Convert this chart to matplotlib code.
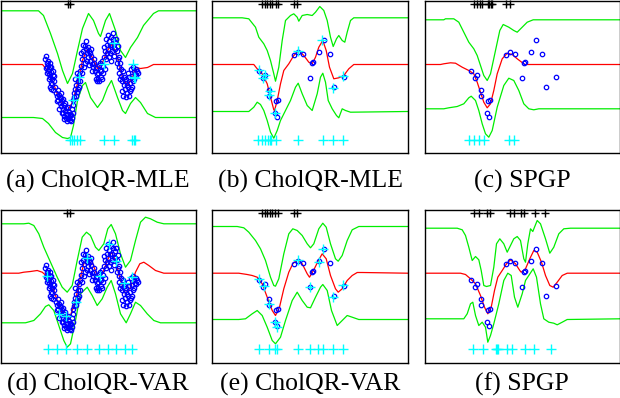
import matplotlib
matplotlib.use("Agg")
import matplotlib.pyplot as plt

# ---------------- data (panel-local coordinates) ----------------
# dense training data used in panels (a) and (d)
data1_x = [45,46,46,47,47,48,48,49,49,50,51,52,51,53,50,54,55,56,57,57,58,59,60,60,61,62,62,63,63,64,65,65,66,67,68,68,69,70,71,72,72,73,74,75,76,77,78,79,78,80,81,81,82,83,84,84,85,86,87,88,89,90,91,92,93,94,95,96,97,98,99,100,101,102,103,104,105,106,107,108,109,110,111,112,113,114,116,117,118,119,118,120,121,122,123,124,125,126,127,128,129,130,131,132,133,134,128,135,
           44,45,46,47,48,49,50,52,53,50,49,52,
           56,58,59,61,63,64,66,67,69,70,71,72,60,62,
           74,75,76,77,79,73,
           80,82,83,85,86,87,88,89,90,91,93,95,96,
           97,98,99,100,101,102,104,
           103,105,106,107,108,109,110,111,112,113,114,115,
           116,117,118,119,120,121,122,123,124,125,126,127,129,130,131,132,133,135,136,137]
data1_y = [55,62,66,64,70,68,73,66,76,71,78,74,83,80,88,86,92,95,89,99,94,102,97,105,100,108,112,104,115,110,107,117,113,118,111,116,119,114,108,104,99,96,88,84,91,80,74,70,86,65,58,72,50,54,45,62,48,52,56,50,60,55,63,66,58,70,67,73,78,64,69,76,60,65,56,50,58,44,48,40,52,36,44,38,47,41,50,58,66,62,72,75,80,70,84,88,78,92,86,95,82,88,75,80,70,73,76,68,
           58,67,72,60,78,62,66,70,75,82,86,89,
           100,108,96,112,118,102,120,106,113,120,117,112,92,98,
           78,95,72,88,80,92,
           52,44,66,40,60,46,64,52,48,70,62,78,80,
           72,80,62,70,78,72,68,
           46,38,52,34,56,44,60,50,32,55,48,38,
           62,45,56,78,68,90,95,76,80,96,84,72,90,68,86,66,78,74,70,72]

# sparse training data used in panels (b), (c), (e), (f)
data2_x = [46,50,52.7,56.7,56,63.3,65.3,62,64,81.7,85.3,90,100.3,99.3,97.7,106.7,111,117,131,121]
data2_y = [70,77.7,74,89.3,95,100,99,112.7,116.7,54.3,51,53.3,61.7,62.7,77.3,51.7,39.3,53.3,76,86.7]

# ---- panel (a) CholQR-MLE ----
a_up_x = [0,38,43,50,57,62,67,72,77,82,88,93,98,100,105,109,115,120,125,130,137,143,153,158,195]
a_up_y = [10.3,10.3,15,33,53,70,83,73,50,28,13,20,33,36,20,13,30,50,57,47,37,25,13,10.3,10.3]
a_mu_x = [0,42,47,52,58,65,67,72,77,82,86,92,97,102,107,112,117,122,127,132,135,140,147,153,195]
a_mu_y = [64,64,70,80,97,110,110,102,83,60,50,57,68,62,50,43,57,77,85,77,67,68,67,64,64]
a_lo_x = [0,33,42,48,55,62,67,70,73,77,82,85,90,97,102,107,111,117,122,125,130,135,140,147,155,195]
a_lo_y = [117,117,118,123,132,137,138,137,125,100,85,82,97,107,100,87,80,97,110,113,103,97,102,113,117,117]
a_sel_x = [78,72,103,113,132,133,134]
a_sel_y = [76,99,63,42,63,76,77]
a_ind_x = [69,71,73,76,79,103,113,131,133,134]
a_top_x = [67,69]

# ---- panel (b) CholQR-MLE ----
b_up_x = [0,29.7,36.3,43,46.3,51.3,54.7,58,61.3,63,66.3,69.7,73,78,81.3,84.7,86.3,89.7,94.7,99.7,103,107.3,111.3,114.7,118,120.7,124,126.3,129.7,132.3,134.7,138,141.3,195]
b_up_y = [17.3,17.3,18.3,26.7,36.7,43.3,50,60,73.3,80.7,66.7,40,20,15,13.3,16.7,20.7,15,14,15,11.7,6,10,20,36.7,46,38.3,35,40,41.7,31.7,20,17.3,17.3]
b_mu_x = [0,41.3,44.7,49.7,54.7,58,61.3,62,64.7,68,71.3,76.3,81.3,86.3,91.3,96.3,99.7,103,106.3,110.3,113.7,117,121.3,126.3,131.3,136.3,141.3,195]
b_mu_y = [64,64,68.3,73.3,83.3,96.7,109.3,110,100,83.3,70,63.3,55,50,55,61.7,63.3,56.7,46.7,40,50,66.7,78.3,77.3,75,68.3,64,64]
b_lo_x = [0,36.3,41.3,44.7,48,51.3,54.7,58,61.3,64.7,68,73,78,83,85.7,89.7,94.7,99.7,104.7,108,110.3,113,115.7,119.7,124,126.3,129.7,133,138,195]
b_lo_y = [111,111,106.7,101.7,104,110,120,131.7,137.7,130,120,110,100,86.7,82.7,93.3,105,110,93.3,76.7,72.7,81.7,100,108.3,115,117.3,108.3,110,111.7,111]
b_sel_x = [46.3,52.3,50.3,57.3,56.3,62,85.7,109.7,130.7,120.3]
b_sel_y = [69.3,74,77.7,90,94.7,112,50,39,75.3,87.3]
b_ind_x = [45.3,49.7,52.3,55.7,57,58.7,63,85.7,110.3,120.3,130.3]
b_top_x = [49.7,52.3,54.7,57,59.7,63,65.7,81.3,84.7]

# ---- panel (c) SPGP ----
c_up_x = [0,19.3,21,29.3,34.3,39.3,44.3,49.3,52.7,56,59.3,62.7,66,71,75.3,78.7,84.3,89.3,92.7,97.7,102.7,108.7,196]
c_up_y = [19.3,19.3,18.3,18.3,21.7,31.7,41.7,48.3,55,65,75,80,73.3,50,30,24,26.7,30,31.7,26.7,21.7,19.3,19.3]
c_mu_x = [0,16,19.3,26,31,37.7,44.3,49.3,52.7,56,59.3,62.7,66,69.3,72.7,77.7,82.7,87.7,92.7,99.3,101,196]
c_mu_y = [64,64,63.3,62.3,62.7,66.7,70,73.3,81.7,91.7,101.7,107.3,103.3,90,73.3,58.3,52.7,54,58.3,63.3,64,64]
c_lo_x = [0,19.3,24.3,32.7,39.3,44.3,46.7,51,54.3,57.7,61,64.3,67.7,72.7,79.3,84.3,89.3,94.3,99.3,104.3,109.3,114.3,196]
c_lo_y = [108.3,108.3,107.3,106,103.3,97.3,95.7,100,110,123.3,133.3,136.7,130,106.7,85,77.7,80,90,103.3,108.3,109.3,108.3,108.3]
c_ind_x = [44.3,49.3,54.3,59.3,84.3,89.3]
c_top_x = [49.3,52.7,55.3,57.7,63.3,64.7,66,67.7,81,85]

# ---- panel (d) CholQR-VAR ----
d_up_x = [0,23.3,28.3,33.3,38.3,43.3,50,56.7,61.7,66.7,71.7,76.7,81.7,86,90,95,98.3,103.3,107.3,110.7,115,120,125,130,135,140,145,150,156.7,163.3,195]
d_up_y = [14.3,14.3,13.7,16,24.3,37.7,52.7,67.7,77.7,82.7,76,51,27.7,22.7,26,37.7,41,34.3,19.3,15,24.3,44.3,57.7,51,31,12.7,7.7,9.3,12.7,14.3,14.3]
d_mu_x = [0,18.3,23.3,30,36.7,41.7,46.7,51.7,56.7,61.7,66,70,75,80,83.3,87.3,91.7,96.7,99,103.3,106.7,111,115,120,125,130,135,139.3,143.3,148.3,155,163.3,195]
d_mu_y = [63.7,63.7,62.7,62,61,62.7,67,76,91,104.3,109.7,106,91,67.7,54.3,47.7,52.7,66,68.3,61,51,42.7,51,71,84.3,77.7,62.7,54.3,52.7,56,61,63.7,63.7]
d_lo_x = [0,25,33.3,40,45,48.3,53.3,58.3,63.3,66.7,70,75,80,86.7,91.7,96.7,101.7,106.7,110.7,115,120,125.7,130,135,140,146.7,153.3,160,195]
d_lo_y = [113.3,113.3,111,104.3,97,95.3,101,116,131,137.7,134.3,111,84.3,77.7,86,96,89.3,77.7,71,84.3,104.3,113.3,104.3,92.7,96,104.3,111,113.3,113.3]
d_sel_x = [46.7,58.3,65.7,75,86,99.3,108.3,115,123.3,131.7]
d_sel_y = [66,104.3,106,92.7,48.3,66,34.3,51,73.7,67.7]
d_ind_x = [47.7,56.7,65.7,76,86,98.3,107.3,115,124,131.7]
d_top_x = [66.7,69]

# ---- panel (e) CholQR-VAR ----
e_up_x = [0,24.7,31.3,36.3,43,48,53,58,61.3,63,66.3,71.3,76.3,80.3,84.7,89.7,94.7,98,101.3,106.3,110.3,113.7,118,123,125.7,129.7,134.7,139.7,146.3,195]
e_up_y = [17,17,18.3,22.7,31,39.3,51,67.7,76,76.7,69.3,44.3,24.3,19.3,21,26,34.3,38.3,34.3,19.3,13.7,17.7,34.3,49.3,51.7,46,31,20.3,17,17]
e_mu_x = [0,26.3,34.7,39.7,44.7,49.7,54.7,59.7,63,67,71.3,76.3,80.3,84.7,89.7,94.7,97,101.3,106.3,109.7,113.7,118,123,125.7,129.7,134.7,139.7,144.7,149.7,195]
e_mu_y = [63.7,63.7,65,66,67.7,74.3,87.7,101,106,97.7,79.3,62.7,54.3,50.3,54.3,64.3,67.7,60.3,50.3,44.3,49.3,66,79.3,82.7,79.3,71,66,63,63,63.7]
e_lo_x = [0,26.3,33,39.7,44.7,49.7,54.7,59.7,63,68,73,79.7,84.7,89.7,94.7,98,103,108,110.3,114.7,119,124.7,129.7,134.7,139.7,146.3,195]
e_lo_y = [110,110,109.3,104.3,101,106,117.7,131,134.3,127.7,111,91,82.7,91,97.7,98.3,87.7,77.7,75,81,101,116,111,106,107.7,110,110]
e_sel_x = [46.3,51.3,56.3,62,64,85.7,106.3,110.3,97.3,120.3,130.3]
e_sel_y = [69.3,76,94.3,112.7,117,50.3,52,39.3,77,87,75.3]
e_ind_x = [46.3,56.3,62.3,64.7,85.7,97.3,105.3,110.3,120.3,130.3]
e_top_x = [49.7,52.3,54.7,57,59.7,62.3,65.7,81.3,84.7]

# ---- panel (f) SPGP ----
f_up_x = [0,32.7,37.7,41,44.3,47.7,51,54.3,56.7,59.3,62,66,69.3,72,75.3,79.3,82.7,86,89.3,92.7,96,99.3,101,103.3,106,108.3,110,112.7,116,121,125.3,129.3,134.3,139.3,146,196]
f_up_y = [18.7,18.7,20.3,26,37.7,51,47,50.3,61,76,77,76,57.7,34.3,29.3,34.3,42.7,36,29.3,27,31,49.3,52.7,34.3,19.3,22,17.7,11,14.3,29.3,43.7,37.7,24.3,19.3,18.7,18.7]
f_mu_x = [0,36,41,46,51,56,60,63.3,66.7,70,73.3,77.7,82,86,91,95.3,96.7,101,105.3,109.3,112.7,117,121,125.3,128.7,132.7,137.7,142.7,196]
f_mu_y = [63.7,63.7,65,69.3,74.3,86,97.7,104.3,97.7,81,67.7,61,54.3,50.3,54.3,61,62.7,59.3,49.3,41,42.7,52.7,66,76,77.7,72.7,66,63.7,63.7]
f_lo_x = [0,39.3,42.7,46,48.3,51,54.3,57.7,61,63.3,66,69.3,74.3,79.3,83.3,86.7,90,93.3,97.7,101,104.3,108.7,112,116,119.3,124.3,129.3,132.7,137.7,142.7,196]
f_lo_y = [109.3,109.3,104.3,94.3,92.7,106,116,112.7,117.7,132.7,126,114.3,94.3,71,63.7,66,87.7,97.7,84.3,71,66,59.3,67.7,94.3,109.3,112.7,113.7,115.3,112.7,110,109.3]
f_ind_x = [48.3,58.3,71,72.7,73.3,82.7,87.7,100.3,109.3,126.7]
f_top_x = [49.3,54.3,62.7,65,85.3,89.3,96,99.3,110,120.3]

captions = ["(a) CholQR-MLE", "(b) CholQR-MLE", "(c) SPGP",
            "(d) CholQR-VAR", "(e) CholQR-VAR", "(f) SPGP"]

ind_y = 139.3
top_y = 3.3

panels = [
    dict(up=(a_up_x, a_up_y), mu=(a_mu_x, a_mu_y), lo=(a_lo_x, a_lo_y), data=(data1_x, data1_y),
         sel=(a_sel_x, a_sel_y), ind=a_ind_x, top=a_top_x),
    dict(up=(b_up_x, b_up_y), mu=(b_mu_x, b_mu_y), lo=(b_lo_x, b_lo_y), data=(data2_x, data2_y),
         sel=(b_sel_x, b_sel_y), ind=b_ind_x, top=b_top_x),
    dict(up=(c_up_x, c_up_y), mu=(c_mu_x, c_mu_y), lo=(c_lo_x, c_lo_y), data=(data2_x, data2_y),
         sel=None, ind=c_ind_x, top=c_top_x),
    dict(up=(d_up_x, d_up_y), mu=(d_mu_x, d_mu_y), lo=(d_lo_x, d_lo_y), data=(data1_x, data1_y),
         sel=(d_sel_x, d_sel_y), ind=d_ind_x, top=d_top_x),
    dict(up=(e_up_x, e_up_y), mu=(e_mu_x, e_mu_y), lo=(e_lo_x, e_lo_y), data=(data2_x, data2_y),
         sel=(e_sel_x, e_sel_y), ind=e_ind_x, top=e_top_x),
    dict(up=(f_up_x, f_up_y), mu=(f_mu_x, f_mu_y), lo=(f_lo_x, f_lo_y), data=(data2_x, data2_y),
         sel=None, ind=f_ind_x, top=f_top_x),
]

# ---------------- layout ----------------
W, H = 620, 398
fig = plt.figure(figsize=(W / 100, H / 100), dpi=100)

lefts = [0.5, 212.5, 424.5]
tops = [0.5, 209.5]
pw = 195
ph = [152.5, 153.5]
cap_base = [188, 391]

for i, p in enumerate(panels):
    r, c = divmod(i, 3)
    l, t, h = lefts[c], tops[r], ph[r]
    ax = fig.add_axes([l / W, 1 - (t + h) / H, pw / W, h / H])
    ax.set_xlim(0, pw)
    ax.set_ylim(h, 0)
    ax.set_xticks([])
    ax.set_yticks([])
    for s in ax.spines.values():
        s.set_linewidth(1.0)
        s.set_color("black")
    ax.plot(*p["up"], color="#00ee00", lw=0.9)
    ax.plot(*p["lo"], color="#00ee00", lw=0.9)
    ax.plot(*p["mu"], color="#ff0000", lw=0.9)
    ax.plot(*p["data"], linestyle="none", marker="o", markersize=3.2,
            markerfacecolor="none", markeredgecolor="#0000ff", markeredgewidth=0.9)
    if p["sel"] is not None:
        ax.plot(*p["sel"], linestyle="none", marker="+", markersize=6.5,
                markeredgecolor="#00ffff", markeredgewidth=1.0)
    ax.plot(p["ind"], [ind_y] * len(p["ind"]), linestyle="none", marker="+",
            markersize=6.5, markeredgecolor="#00ffff", markeredgewidth=1.0)
    ax.plot(p["top"], [top_y] * len(p["top"]), linestyle="none", marker="+",
            markersize=6, markeredgecolor="black", markeredgewidth=1.0, clip_on=False)
    fig.text((l + pw / 2) / W, 1 - cap_base[r] / H, captions[i],
             ha="center", va="baseline", family="Liberation Serif", fontsize=18.5)

fig.savefig("out.png", dpi=100)
